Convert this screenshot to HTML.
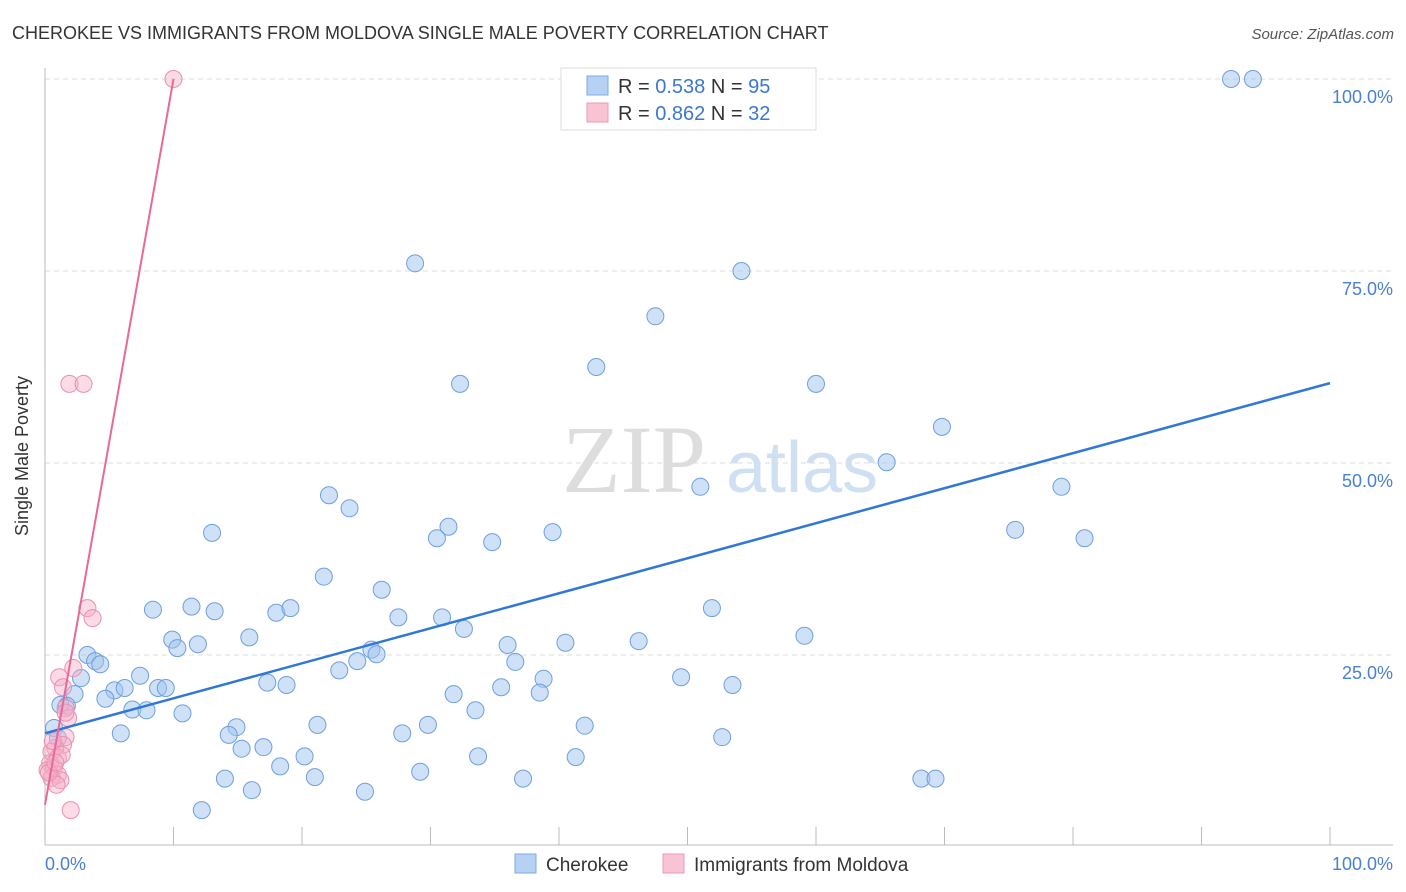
<!DOCTYPE html>
<html><head><meta charset="utf-8">
<style>
body{margin:0;background:#fff;font-family:"Liberation Sans",sans-serif;}
svg{display:block}
</style></head>
<body>
<svg id="chart" width="1406" height="892">
<text x="12" y="39" font-size="18" fill="#333">CHEROKEE VS IMMIGRANTS FROM MOLDOVA SINGLE MALE POVERTY CORRELATION CHART</text>
<text x="1394" y="39" font-size="15" fill="#555" font-style="italic" text-anchor="end">Source: ZipAtlas.com</text>
<g>
<text x="634" y="492" font-size="96" fill="#ddd" font-family="Liberation Serif" text-anchor="middle">ZIP</text>
<text x="802" y="492" font-size="72" fill="#cfe0f3" text-anchor="middle">atlas</text>
</g>
<g id="grid"></g>
<g id="axes"></g>
<g id="pts"></g>
<g id="lines"></g>
<text x="28" y="456" font-size="18" fill="#333" text-anchor="middle" transform="rotate(-90 28 456)">Single Male Poverty</text>
<g>
<rect x="561" y="68" width="255" height="62" fill="#fff" stroke="#ddd"/>
<rect x="587" y="76" width="21" height="19" fill="#b7d1f5" stroke="#7fa9e3"/>
<text x="618" y="93" font-size="20" fill="#333">R = <tspan fill="#3a78d0">0.538</tspan>   N = <tspan fill="#3a78d0">95</tspan></text>
<rect x="587" y="103" width="21" height="19" fill="#f8c3d3" stroke="#ee99b5"/>
<text x="618" y="120" font-size="20" fill="#333">R = <tspan fill="#3a78d0">0.862</tspan>   N = <tspan fill="#3a78d0">32</tspan></text>
</g>
<g>
<rect x="515" y="854" width="21" height="19" fill="#b7d1f5" stroke="#7fa9e3"/>
<text x="546" y="871" font-size="19" fill="#333">Cherokee</text>
<rect x="663" y="854" width="21" height="19" fill="#f8c3d3" stroke="#ee99b5"/>
<text x="694" y="871" font-size="19" fill="#333">Immigrants from Moldova</text>
</g>
</svg>
<script>
const yTicks=[100,75,50,25];
const yTickLabels=["100.0%","75.0%","50.0%","25.0%"];
const xTickLabels=["0.0%","100.0%"];
const blueX=[92.3,94.0,28.8,54.2,47.5,42.9,32.3,60.0,69.8,65.5,51.0,79.1,22.1,23.7,75.5,80.9,13.0,31.4,30.5,34.8,39.5,21.7,26.2,8.4,11.4,13.2,18.0,19.1,27.5,30.9,51.9,32.6,15.9,9.9,10.3,11.9,59.1,46.2,40.5,36.0,25.4,25.8,24.3,3.3,3.9,4.3,36.6,22.9,7.4,2.8,49.5,38.8,17.3,18.8,53.5,5.4,6.2,8.8,9.4,35.5,31.8,38.5,2.3,4.7,1.2,1.7,6.8,7.9,33.5,10.7,21.2,29.8,42.0,14.9,0.7,5.9,14.3,52.7,27.8,1.0,15.3,17.0,20.2,33.7,41.3,18.3,29.2,14.0,21.0,37.2,68.2,69.3,16.1,24.9,12.2];
const blueY=[100,100,76.0,75.0,69.1,62.5,60.3,60.3,54.7,50.1,46.9,46.9,45.8,44.1,41.3,40.2,40.9,41.7,40.2,39.7,41.0,35.2,33.5,30.9,31.3,30.7,30.5,31.1,29.9,29.9,31.1,28.4,27.3,27.0,25.9,26.4,27.5,26.8,26.6,26.3,25.7,25.1,24.2,25.0,24.2,23.8,24.1,23.0,22.3,22.0,22.1,21.9,21.4,21.1,21.1,20.4,20.7,20.7,20.7,20.8,19.9,20.1,19.9,19.3,18.5,18.4,17.9,17.8,17.8,17.4,15.9,15.9,15.8,15.6,15.5,14.8,14.6,14.3,14.8,14.2,12.8,13.0,11.8,11.8,11.7,10.5,9.8,8.9,9.1,8.9,8.9,8.9,7.4,7.2,4.8];
const pinkX=[10.0,1.9,3.0,3.3,3.7,2.2,1.1,1.4,1.6,1.8,1.6,1.4,0.8,0.5,1.0,0.4,0.7,0.2,1.0,0.5,1.2,0.9,2.0,0.6,1.6,1.3,0.3,0.8];
const pinkY=[100,60.3,60.3,31.1,29.8,23.3,22.1,20.8,18.1,16.8,14.3,13.3,12.9,12.4,11.6,10.9,10.3,10.0,9.4,9.0,8.7,8.1,4.8,13.8,17.5,12.0,9.7,11.0];
const blueTrend=[[0,14.8],[100,60.4]];
const pinkTrend=[[0,5.5],[10,100]];
const NS="http://www.w3.org/2000/svg";
const X=v=>45+v*12.85, Y=v=>847-v*7.68;
function mk(parent,tag,attrs){const e=document.createElementNS(NS,tag);for(const k in attrs)e.setAttribute(k,attrs[k]);document.getElementById(parent).appendChild(e);return e;}
yTicks.forEach((t,i)=>{
 const g=mk('grid','line',{x1:45,x2:1393,y1:Y(t),y2:Y(t),stroke:'#ddd','stroke-dasharray':'5,4'});
 
 
 const l=mk('axes','text',{x:1393,y:Y(t)+24,'font-size':18,fill:'#4a80d0','text-anchor':'end'});
 l.textContent=yTickLabels[i];
 
 
});
let a=mk('axes','line',{x1:45,x2:45,y1:68,y2:845,stroke:'#bbb'});


a=mk('axes','line',{x1:45,x2:1393,y1:845,y2:845,stroke:'#bbb'});


for(let i=1;i<=10;i++){const t=mk('axes','line',{x1:X(i*10),x2:X(i*10),y1:827,y2:845,stroke:'#bbb'});
 
 }
let xl=mk('axes','text',{x:45,y:870,'font-size':18,fill:'#4a80d0'});xl.textContent=xTickLabels[0];


xl=mk('axes','text',{x:1393,y:870,'font-size':18,fill:'#4a80d0','text-anchor':'end'});xl.textContent=xTickLabels[1];


blueX.forEach((v,i)=>{const c=mk('pts','circle',{cx:X(v),cy:Y(blueY[i]),r:8.5,fill:'rgba(160,195,240,0.5)',stroke:'#6d9fe0','stroke-width':1});
 
 });
pinkX.forEach((v,i)=>{const c=mk('pts','circle',{cx:X(v),cy:Y(pinkY[i]),r:8.5,fill:'rgba(245,175,200,0.45)',stroke:'#ec8fae','stroke-width':1});
 
 });
let ln=mk('lines','line',{x1:X(blueTrend[0][0]),y1:Y(blueTrend[0][1]),x2:X(blueTrend[1][0]),y2:Y(blueTrend[1][1]),stroke:'#2f78d8','stroke-width':2.5});


ln=mk('lines','line',{x1:X(pinkTrend[0][0]),y1:Y(pinkTrend[0][1]),x2:X(pinkTrend[1][0]),y2:Y(pinkTrend[1][1]),stroke:'#e8689a','stroke-width':2});


</script>
</body></html>
